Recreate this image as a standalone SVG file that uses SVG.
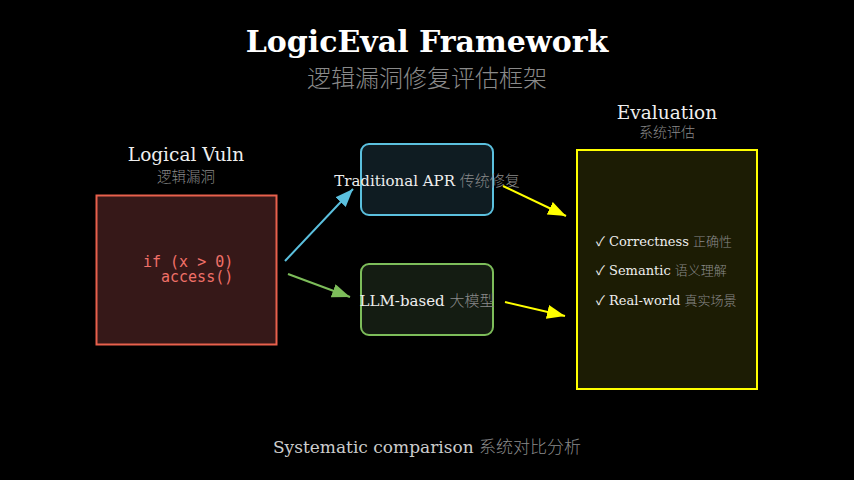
<svg xmlns="http://www.w3.org/2000/svg" width="854" height="480" viewBox="0 0 854 480">
<defs>
<style>
.serif{font-family:"DejaVu Serif","Noto Sans CJK SC",serif;}
.cjk{font-family:"Noto Sans CJK SC","DejaVu Sans",sans-serif;fill:#8a8a8a;font-weight:300;}
.lbl{fill:#eeeeee;}
.mono{font-family:"DejaVu Sans Mono",monospace;fill:#f07068;font-size:15px;}
</style>
<marker id="mb" viewBox="0 0 18 14" refX="18" refY="7" markerWidth="18" markerHeight="14" orient="auto" markerUnits="userSpaceOnUse"><path d="M0,0L18,7L0,14z" fill="#5bc0de"/></marker>
<marker id="mg" viewBox="0 0 18 14" refX="18" refY="7" markerWidth="18" markerHeight="14" orient="auto" markerUnits="userSpaceOnUse"><path d="M0,0L18,7L0,14z" fill="#7dbd5a"/></marker>
<marker id="my" viewBox="0 0 18 14" refX="18" refY="7" markerWidth="18" markerHeight="14" orient="auto" markerUnits="userSpaceOnUse"><path d="M0,0L18,7L0,14z" fill="#ffff00"/></marker>
</defs>
<rect width="854" height="480" fill="#000"/>
<g id="title">
<text x="427" y="52" text-anchor="middle" class="serif" font-size="30" font-weight="bold" fill="#fff">LogicEval Framework</text>
<text x="427" y="87" text-anchor="middle" class="cjk" font-size="24">逻辑漏洞修复评估框架</text>
</g>
<g id="vuln">
<text x="186" y="161" text-anchor="middle" class="serif lbl" font-size="18.5">Logical Vuln</text>
<text x="186" y="182" text-anchor="middle" class="cjk" font-size="14.5">逻辑漏洞</text>
<rect x="96.5" y="195.5" width="180" height="149" fill="#361818" stroke="#e8604c" stroke-width="2"/>
<text x="143" y="267" class="mono">if (x &gt; 0)</text>
<text x="161" y="282" class="mono">access()</text>
</g>
<g id="trad">
<rect x="361" y="144" width="132" height="71" rx="8" fill="#0f1c22" stroke="#5bc0de" stroke-width="2"/>
<text x="427" y="186" text-anchor="middle" font-size="15"><tspan class="serif lbl">Traditional APR </tspan><tspan class="cjk">传统修复</tspan></text>
</g>
<g id="llm">
<rect x="361" y="264" width="132" height="71" rx="8" fill="#141c12" stroke="#7dbd5a" stroke-width="2"/>
<text x="427" y="306" text-anchor="middle" font-size="15"><tspan class="serif lbl">LLM-based </tspan><tspan class="cjk">大模型</tspan></text>
</g>
<g id="eval">
<text x="667" y="119" text-anchor="middle" class="serif lbl" font-size="18.5">Evaluation</text>
<text x="667" y="137" text-anchor="middle" class="cjk" font-size="14">系统评估</text>
<rect x="577" y="150" width="180" height="239" fill="#1c1c04" stroke="#ffff00" stroke-width="2"/>
<text x="596" y="246" font-size="13"><tspan class="serif lbl">✓ Correctness </tspan><tspan class="cjk">正确性</tspan></text>
<text x="596" y="275" font-size="13"><tspan class="serif lbl">✓ Semantic </tspan><tspan class="cjk">语义理解</tspan></text>
<text x="596" y="305" font-size="13"><tspan class="serif lbl">✓ Real-world </tspan><tspan class="cjk">真实场景</tspan></text>
</g>
<g id="connectors" stroke-width="2" fill="none">
<line x1="285" y1="261" x2="353" y2="189" stroke="#5bc0de" marker-end="url(#mb)"/>
<line x1="288" y1="274" x2="350" y2="297" stroke="#7dbd5a" marker-end="url(#mg)"/>
<line x1="503" y1="186" x2="566" y2="216" stroke="#ffff00" marker-end="url(#my)"/>
<line x1="505" y1="302" x2="565" y2="316" stroke="#ffff00" marker-end="url(#my)"/>
</g>
<g id="footer">
<text x="427" y="453" text-anchor="middle" font-size="17"><tspan class="serif" fill="#cccccc">Systematic comparison </tspan><tspan class="cjk">系统对比分析</tspan></text>
</g>
</svg>
